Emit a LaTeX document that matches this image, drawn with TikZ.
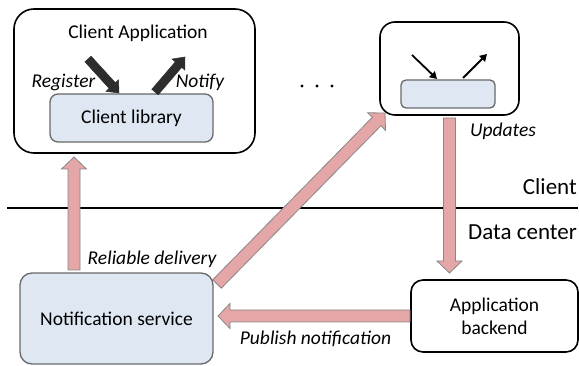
\documentclass[tikz,border=0pt]{standalone}
\usepackage{fontspec}
\setmainfont{Carlito}
\usetikzlibrary{calc,arrows.meta}

\definecolor{blockpink}{RGB}{228,166,166}
\definecolor{blockedge}{RGB}{135,135,135}
\definecolor{libblue}{RGB}{222,231,242}
\definecolor{libedge}{RGB}{105,105,105}
\definecolor{darkarrow}{RGB}{45,45,45}

% Block arrow: #1 style, #2 tail, #3 tip, #4 half shaft width,
% #5 half head width, #6 head length
\newcommand\blockarrow[6]{%
  \draw[#1] ($(#2)!#4!90:(#3)$)
    -- ($(#3)!#6!(#2)!#4!-90:(#2)$)
    -- ($(#3)!#6!(#2)!#5!-90:(#2)$)
    -- (#3)
    -- ($(#3)!#6!(#2)!#5!90:(#2)$)
    -- ($(#3)!#6!(#2)!#4!90:(#2)$)
    -- ($(#2)!#4!-90:(#3)$) -- cycle;}

\tikzset{
  every node/.style={font=\fontsize{19.5}{24}\selectfont},
  outerbox/.style={draw=black, line width=1.6pt, fill=white, inner sep=0pt},
  bluebox/.style={draw=libedge, line width=1.3pt, fill=libblue, inner sep=0pt},
  label/.style={font=\fontsize{19.5}{24}\selectfont\itshape, inner sep=0pt},
  sidelabel/.style={font=\fontsize{23}{28}\selectfont, inner sep=0pt, anchor=east},
  pinkarrow/.style={fill=blockpink, draw=blockedge, line width=0.8pt, line join=miter},
  darkblock/.style={fill=darkarrow, draw=darkarrow, line width=0.5pt, line join=miter},
  thinarrow/.style={draw=black, line width=1.8pt, -{Triangle[length=7pt,width=8pt]}},
  dot/.style={circle, fill=black, inner sep=0pt, minimum size=3.4pt},
}

\begin{document}
\begin{tikzpicture}[x=1pt, y=-1pt]
\useasboundingbox (0,0) rectangle (579,366);

% Client side: application with its library
\node[outerbox, rounded corners=20pt, minimum width=241pt, minimum height=144pt] (app) at (134.5,81) {};
\node (apptitle) at (138,33) {Client Application};
\node[bluebox, rounded corners=8pt, minimum width=163pt, minimum height=48pt] (lib) at (131.5,118) {Client library};

% Another client, drawn in miniature
\node[outerbox, rounded corners=15pt, minimum width=139pt, minimum height=93pt] (app2) at (449.5,68.5) {};
\node[bluebox, rounded corners=5pt, minimum width=94pt, minimum height=28pt] (lib2) at (448,94) {};

\node[dot] (d1) at (302,86) {};
\node[dot] (d2) at (317,86) {};
\node[dot] (d3) at (332,86) {};

% Boundary between client and data center
\coordinate (lineL) at (7,208);
\coordinate (lineR) at (578,208);
\draw[line width=2.4pt] (lineL) -- (lineR);
\node[sidelabel] (clientlbl) at (577,187) {Client};
\node[sidelabel] (dclbl) at (577,232) {Data center};

% Data center nodes
\node[bluebox, rounded corners=12pt, minimum width=193pt, minimum height=91pt] (notif) at (116.5,318.5) {Notification service};
\node[outerbox, rounded corners=12pt, minimum width=167pt, minimum height=72pt, align=center] (backend) at (494.5,316) {Application\\[-1pt]backend};

% Register / Notify arrows inside the client application
\coordinate (regT) at (88,59);
\coordinate (regH) at (119,93);
\coordinate (notT) at (155,92);
\coordinate (notH) at (185,57);
\blockarrow{darkblock}{regT}{regH}{4.2pt}{8.5pt}{10pt}
\blockarrow{darkblock}{notT}{notH}{4.2pt}{8.5pt}{10pt}
\node[label] (reglbl) at (63.5,82) {Register};
\node[label] (notlbl) at (200,82) {Notify};

% Same arrows in the miniature client
\coordinate (reg2T) at (412,55);
\coordinate (reg2H) at (437,79);
\coordinate (not2T) at (463,78);
\coordinate (not2H) at (487,54);
\draw[thinarrow] (reg2T) -- (reg2H);
\draw[thinarrow] (not2T) -- (not2H);

% Message flow between the parts
\coordinate (upT) at (74,270);
\coordinate (upH) at (74,157);
\coordinate (diagT) at (217,284);
\coordinate (diagH) at (385,113);
\coordinate (downT) at (449.5,118);
\coordinate (downH) at (449.5,273);
\coordinate (leftT) at (410,316);
\coordinate (leftH) at (218,316);
\blockarrow{pinkarrow}{upT}{upH}{6pt}{12.5pt}{12pt}
\blockarrow{pinkarrow}{diagT}{diagH}{6pt}{12.5pt}{12pt}
\blockarrow{pinkarrow}{downT}{downH}{6pt}{12.5pt}{12pt}
\blockarrow{pinkarrow}{leftT}{leftH}{6pt}{12.5pt}{12pt}

\node[label] (updlbl) at (503,131) {Updates};
\node[label] (rellbl) at (152,259) {Reliable delivery};
\node[label] (publbl) at (315.5,339) {Publish notification};
\end{tikzpicture}
\end{document}
